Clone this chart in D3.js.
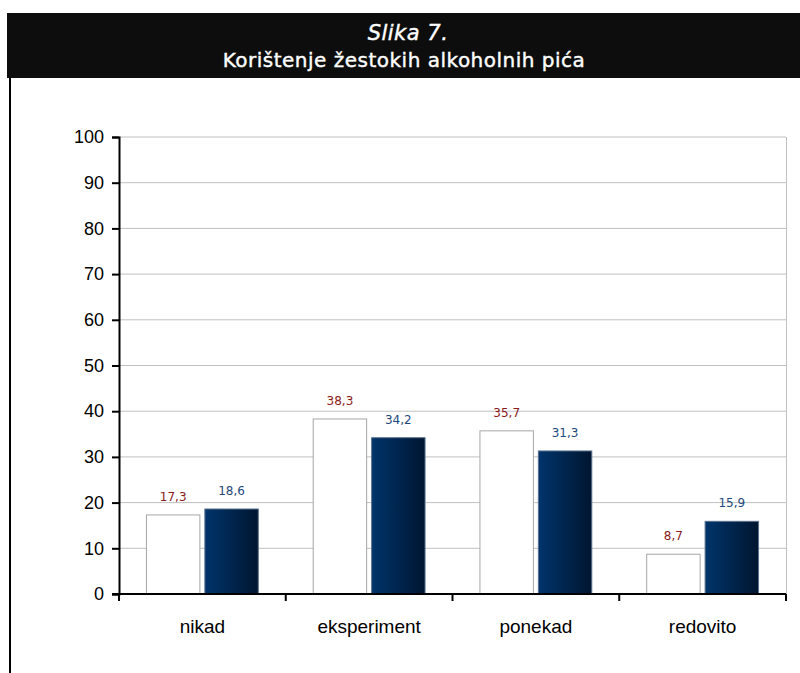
<!DOCTYPE html>
<html>
<head>
<meta charset="utf-8">
<script src="https://cdn.jsdelivr.net/npm/d3@7"></script>
<style>
  body { margin: 0; background: #fff; }
  svg { display: block; }
</style>
</head>
<body>
<svg id="chart"></svg>
<script>
const width = 800;
const height = 673;

// chart data
const categories = ["nikad", "eksperiment", "ponekad", "redovito"];
const seriesA = [17.3, 38.3, 35.7, 8.7];
const seriesB = [18.6, 34.2, 31.3, 15.9];
const yTicks = [0, 10, 20, 30, 40, 50, 60, 70, 80, 90, 100];
const titleLine1 = "Slika 7.";
const titleLine2 = "Korištenje žestokih alkoholnih pića";

const margin = {top: 137, right: 14, bottom: 79, left: 119};

const svg = d3.select("#chart")
  .attr("width", width)
  .attr("height", height);

// gradient for the dark bars
const defs = svg.append("defs");
const grad = defs.append("linearGradient").attr("id", "blueGrad")
  .attr("x1", "0%").attr("x2", "100%").attr("y1", "0%").attr("y2", "0%");
grad.append("stop").attr("offset", "0%").attr("stop-color", "#00346b");
grad.append("stop").attr("offset", "100%").attr("stop-color", "#001630");

// header band
svg.append("rect")
  .attr("x", 7).attr("y", 13)
  .attr("width", width - 7).attr("height", 65)
  .attr("fill", "#0d0d0d");

svg.append("text")
  .attr("x", 408).attr("y", 40)
  .attr("text-anchor", "middle")
  .attr("fill", "#fff")
  .attr("stroke", "#fff").attr("stroke-width", 0.4)
  .attr("letter-spacing", 0.5)
  .style("font", "italic 21px 'DejaVu Sans'")
  .text(titleLine1);

svg.append("text")
  .attr("x", 404).attr("y", 67)
  .attr("text-anchor", "middle")
  .attr("fill", "#fff")
  .attr("stroke", "#fff").attr("stroke-width", 0.4)
  .attr("letter-spacing", 0.5)
  .style("font", "20px 'DejaVu Sans'")
  .text(titleLine2);

// left frame line
svg.append("line")
  .attr("x1", 10).attr("x2", 10)
  .attr("y1", 78).attr("y2", height)
  .attr("stroke", "#000").attr("stroke-width", 2);

const x = d3.scaleBand()
  .domain(categories)
  .range([margin.left, width - margin.right])
  .paddingInner(0).paddingOuter(0);

const y = d3.scaleLinear()
  .domain([0, 100])
  .range([height - margin.bottom, margin.top]);

const inner = d3.scaleBand()
  .domain(["a", "b"])
  .range([0, x.bandwidth()])
  .paddingInner(0.085)
  .paddingOuter(0.47);

// gridlines
svg.append("g")
  .selectAll("line")
  .data(yTicks.slice(1))
  .join("line")
  .attr("x1", margin.left).attr("x2", width - margin.right)
  .attr("y1", d => y(d)).attr("y2", d => y(d))
  .attr("stroke", "#c0c0c0").attr("stroke-width", 1);

svg.append("line")
  .attr("x1", width - margin.right + 0.5).attr("x2", width - margin.right + 0.5)
  .attr("y1", y(100)).attr("y2", y(0))
  .attr("stroke", "#c0c0c0");

// bars
const groups = svg.append("g")
  .selectAll("g")
  .data(categories)
  .join("g")
  .attr("transform", d => `translate(${x(d)},0)`);

groups.append("rect")
  .attr("x", d => inner("a"))
  .attr("y", (d, i) => y(seriesA[i]))
  .attr("width", inner.bandwidth())
  .attr("height", (d, i) => y(0) - y(seriesA[i]))
  .attr("fill", "#fff")
  .attr("stroke", "#a6a6a6").attr("stroke-width", 1);

groups.append("rect")
  .attr("x", d => inner("b"))
  .attr("y", (d, i) => y(seriesB[i]))
  .attr("width", inner.bandwidth())
  .attr("height", (d, i) => y(0) - y(seriesB[i]))
  .attr("fill", "url(#blueGrad)")
  .attr("stroke", "#5a7390").attr("stroke-width", 1);

// value labels
const fmt = v => String(v).replace(".", ",");
groups.append("text")
  .attr("x", inner("a") + inner.bandwidth() / 2)
  .attr("y", (d, i) => y(seriesA[i]) - 14)
  .attr("text-anchor", "middle")
  .attr("fill", "#8b1a1a")
  .style("font", "12px 'DejaVu Sans'")
  .text((d, i) => fmt(seriesA[i]));

groups.append("text")
  .attr("x", inner("b") + inner.bandwidth() / 2)
  .attr("y", (d, i) => y(seriesB[i]) - 14)
  .attr("text-anchor", "middle")
  .attr("fill", "#1f497d")
  .style("font", "12px 'DejaVu Sans'")
  .text((d, i) => fmt(seriesB[i]));

// y axis
const yAxis = svg.append("g")
  .attr("transform", `translate(${margin.left},0)`)
  .call(d3.axisLeft(y).tickValues(yTicks).tickSize(7).tickPadding(8));
yAxis.select(".domain").attr("stroke-width", 2);
yAxis.selectAll(".tick line").attr("stroke-width", 2);
yAxis.selectAll("text").style("font", "18px 'Liberation Sans'").attr("fill", "#000");

// x axis with ticks at band edges
const xAxis = svg.append("g")
  .attr("transform", `translate(0,${y(0)})`);
xAxis.append("line")
  .attr("x1", margin.left - 7).attr("x2", width - margin.right)
  .attr("stroke", "#000").attr("stroke-width", 2);
const edges = categories.map(c => x(c)).concat([x(categories[categories.length - 1]) + x.bandwidth()]);
xAxis.selectAll("line.tk")
  .data(edges)
  .join("line")
  .attr("class", "tk")
  .attr("x1", d => d).attr("x2", d => d)
  .attr("y1", 0).attr("y2", 7)
  .attr("stroke", "#000").attr("stroke-width", 2);
xAxis.selectAll("text")
  .data(categories)
  .join("text")
  .attr("x", d => x(d) + x.bandwidth() / 2)
  .attr("y", 39)
  .attr("text-anchor", "middle")
  .attr("fill", "#000")
  .style("font", "19px 'Liberation Sans'")
  .text(d => d);
</script>
</body>
</html>
